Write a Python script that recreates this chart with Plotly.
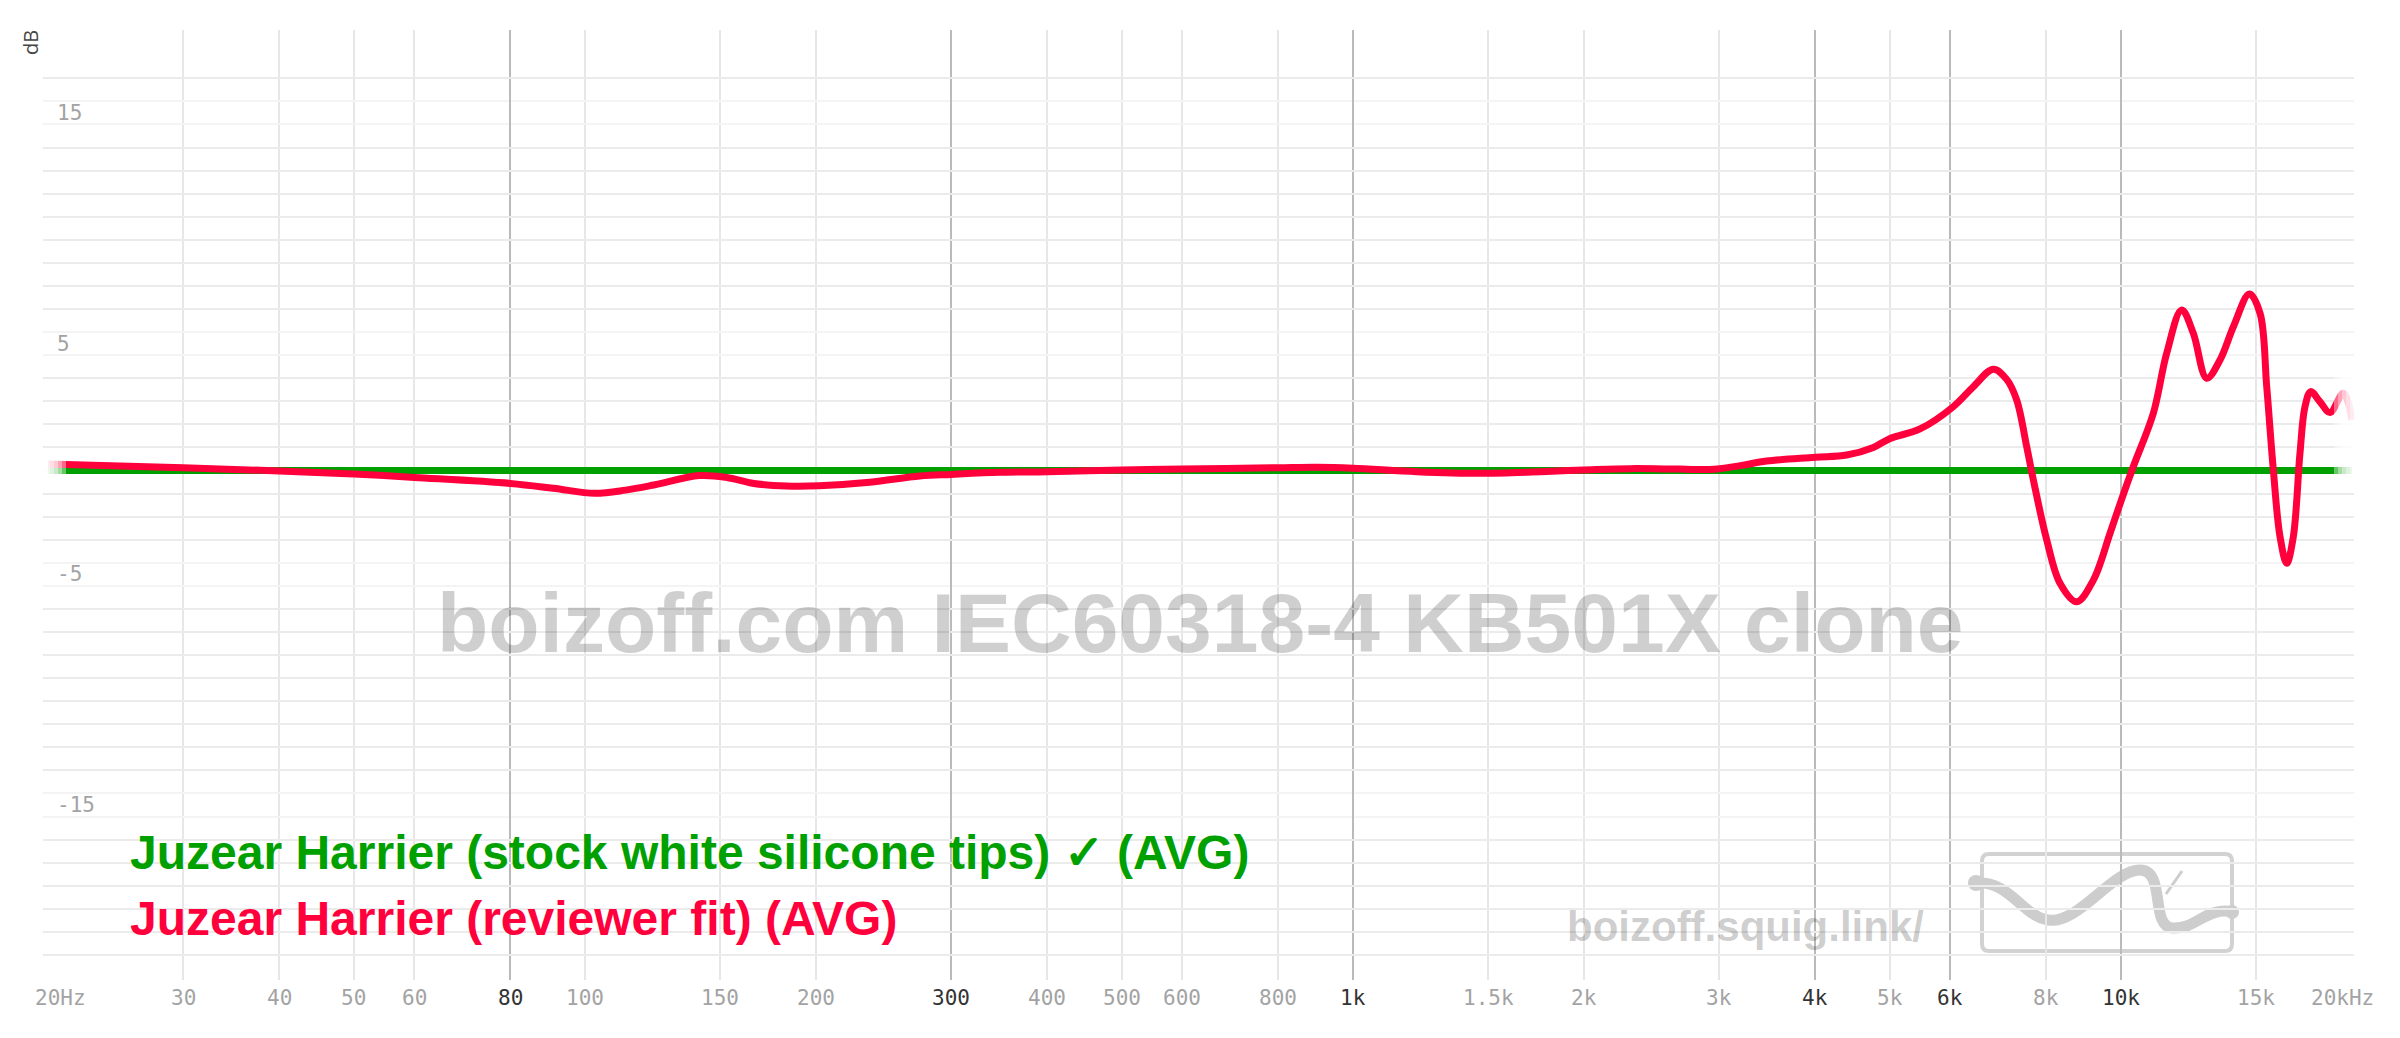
import math
import plotly.graph_objects as go

# ---------------- data ----------------
FREQ_HZ = [20, 30, 40, 50, 60, 80, 91, 103, 113, 123, 141, 153, 166, 183, 202,
           235, 273, 300, 347, 400, 500, 600, 800, 897, 1000, 1211, 1464, 1788,
           2000, 2296, 2668, 2947, 3194, 3458, 4000, 4396, 4762, 5000, 5477,
           6053, 6427, 6824, 7102, 7318, 7542, 7694, 8008, 8334, 8760, 9210,
           9683, 10000, 10380, 11024, 11474, 12002, 12428, 12938, 13464, 14014,
           14704, 15182, 15488, 15798, 16118, 16444, 16774, 17112, 17372, 17670,
           18170, 18726, 19486, 20000]
REVIEWER_DB = [0.28, 0.12, -0.02, -0.15, -0.30, -0.56, -0.77, -0.99, -0.85, -0.63,
               -0.22, -0.30, -0.56, -0.67, -0.66, -0.51, -0.24, -0.17, -0.08, -0.05,
               0.02, 0.06, 0.12, 0.14, 0.10, -0.05, -0.12, -0.04, 0.02, 0.08,
               0.06, 0.05, 0.21, 0.41, 0.57, 0.67, 1.00, 1.38, 1.80,
               2.77, 3.63, 4.39, 3.95, 3.06, 1.03, -0.41, -3.01, -4.89, -5.69, -4.75,
               -2.72, -1.35, 0.16, 2.48, 5.08, 6.96, 5.95, 4.00, 4.79, 6.23,
               7.65, 6.81, 3.63, 0.02, -2.87, -4.02, -2.87, 0.75, 2.77, 3.42,
               2.98, 2.51, 3.35, 2.20]
STOCK_FREQ_HZ = [20, 20000]
STOCK_DB = [0.0, 0.0]

XTICK_HZ = [20, 30, 40, 50, 60, 80, 100, 150, 200, 300, 400, 500, 600, 800,
            1000, 1500, 2000, 3000, 4000, 5000, 6000, 8000, 10000, 15000, 20000]
XTICK_TEXT = ["20Hz", "30", "40", "50", "60", "80", "100", "150", "200", "300",
              "400", "500", "600", "800", "1k", "1.5k", "2k", "3k", "4k", "5k",
              "6k", "8k", "10k", "15k", "20kHz"]
XTICK_MAJOR_HZ = [80, 300, 1000, 4000, 6000, 10000]
YGRID_DB = list(range(-21, 18))
YLABEL_DB = [15, 5, -5, -15]

TRACE_NAMES = ["Juzear Harrier (stock white silicone tips) \u2713 (AVG)",
               "Juzear Harrier (reviewer fit) (AVG)"]
TRACE_COLORS = ["#00a000", "#ff003c"]
WATERMARK = "boizoff.com IEC60318-4 KB501X clone"
SITE = "boizoff.squig.link/"
Y_UNIT = "dB"

# ---------------- geometry ----------------
W, H = 2400, 1038
PAGE_OFF = 8                      # html body margin
SL, ST, SR, SB = 43, 30, 2354, 980  # plot area on screen
PW, PH = SR - SL, SB - ST
L, T = SL - PAGE_OFF, ST - PAGE_OFF
R, B = W - L - PW, H - T - PH
PX_PER_DEC = 768.0
X0 = math.log10(20) - (48 - SL) / PX_PER_DEC
X1 = X0 + PW / PX_PER_DEC
PX_PER_DB = 23.07
Y_TOP = (470.5 - ST) / PX_PER_DB
Y_BOT = Y_TOP - PH / PX_PER_DB


def px(xp):
    return (xp - SL) / PW


def py(yp):
    return (SB - yp) / PH


MONO = "DejaVu Sans Mono"
SANS = "Liberation Sans, Arial, sans-serif"

fig = go.Figure()
fig.add_trace(go.Scatter(x=STOCK_FREQ_HZ, y=STOCK_DB, mode="lines",
                         line=dict(color=TRACE_COLORS[0], width=7),
                         hoverinfo="skip", showlegend=False))
fig.add_trace(go.Scatter(x=FREQ_HZ, y=REVIEWER_DB, mode="lines",
                         line=dict(color=TRACE_COLORS[1], width=7, shape="spline", smoothing=1.0),
                         hoverinfo="skip", showlegend=False))

minor_x = [f for f in XTICK_HZ if f not in XTICK_MAJOR_HZ and f not in (20, 20000)]
light_y = set()
for v in YLABEL_DB:
    light_y.add(v)
    light_y.add(v + 1)
major_y = [v for v in YGRID_DB if v not in light_y]

annotations = []
# x tick labels
for f, t in zip(XTICK_HZ, XTICK_TEXT):
    dark = f in XTICK_MAJOR_HZ
    shift = 12 if f == 20 else (-10 if f == 20000 else 0)
    annotations.append(dict(x=math.log10(f), xref="x", y=py(998), yref="paper",
                            text=t, showarrow=False, xanchor="center", yanchor="middle",
                            xshift=shift,
                            font=dict(family=MONO, size=21,
                                      color="#333333" if dark else "#a3a3a3")))
# y tick labels
for v in YLABEL_DB:
    annotations.append(dict(x=px(55), xref="paper", y=v, yref="y", yshift=11.5,
                            text=str(v), showarrow=False, xanchor="left", yanchor="middle",
                            font=dict(family=MONO, size=21, color="#a3a3a3")))
# unit label
annotations.append(dict(x=px(31), xref="paper", y=py(43), yref="paper", text=Y_UNIT,
                        textangle=-90, showarrow=False, xanchor="center", yanchor="middle",
                        font=dict(family="Open Sans", size=20, color="#444444")))
# watermark
annotations.append(dict(x=px(1200), xref="paper", y=py(623), yref="paper", text=WATERMARK,
                        showarrow=False, xanchor="center", yanchor="middle",
                        font=dict(family=SANS, size=84, weight="bold", color="rgba(0,0,0,0.19)")))
annotations.append(dict(x=px(1565), xref="paper", y=py(926), yref="paper", text=SITE,
                        showarrow=False, xanchor="left", yanchor="middle",
                        font=dict(family=SANS, size=42, weight="bold", color="rgba(0,0,0,0.2)")))
# legend labels
for name, col, yc in zip(TRACE_NAMES, TRACE_COLORS, [852.5, 918]):
    annotations.append(dict(x=px(128), xref="paper", y=py(yc), yref="paper", text=name,
                            showarrow=False, xanchor="left", yanchor="middle",
                            font=dict(family=SANS, size=48, weight="bold", color=col)))

shapes = []
# logo box (rounded rectangle)
bx0, by0, bx1, by1, rr = 1982, 854, 2232, 951, 7
pts = (f"M {px(bx0+rr)} {py(by0)} L {px(bx1-rr)} {py(by0)} Q {px(bx1)} {py(by0)} {px(bx1)} {py(by0+rr)} "
       f"L {px(bx1)} {py(by1-rr)} Q {px(bx1)} {py(by1)} {px(bx1-rr)} {py(by1)} "
       f"L {px(bx0+rr)} {py(by1)} Q {px(bx0)} {py(by1)} {px(bx0)} {py(by1-rr)} "
       f"L {px(bx0)} {py(by0+rr)} Q {px(bx0)} {py(by0)} {px(bx0+rr)} {py(by0)} Z")
shapes.append(dict(type="path", path=pts, xref="paper", yref="paper", layer="below",
                   line=dict(color="#d2d2d2", width=4)))
squig = [(1975, 883), (2010, 880), (2022, 916), (2048, 920), (2078, 925), (2112, 870),
         (2140, 870), (2166, 870), (2150, 926), (2172, 928), (2196, 930), (2206, 906), (2234, 912)]
d = f"M {px(squig[0][0])} {py(squig[0][1])}"
for i in range(1, len(squig), 3):
    a, b_, c = squig[i], squig[i + 1], squig[i + 2]
    d += f" C {px(a[0])} {py(a[1])} {px(b_[0])} {py(b_[1])} {px(c[0])} {py(c[1])}"
shapes.append(dict(type="path", path=d, xref="paper", yref="paper", layer="below",
                   line=dict(color="#cdcdcd", width=11)))
shapes.append(dict(type="path", path=f"M {px(2166)} {py(894)} L {px(2182)} {py(871)}",
                   xref="paper", yref="paper", layer="below", line=dict(color="#cdcdcd", width=3)))
for cx, cy, rad in [(1976, 883, 8), (2232, 912, 7)]:
    shapes.append(dict(type="circle", xref="paper", yref="paper", layer="below",
                       x0=px(cx - rad), x1=px(cx + rad), y0=py(cy + rad), y1=py(cy - rad),
                       fillcolor="#cdcdcd", line=dict(width=0)))
# end fades of the curves
for xi in [66, 62, 58, 54, 50]:
    shapes.append(dict(type="rect", xref="paper", yref="y", layer="above",
                       x0=px(40), x1=px(xi), y0=-0.85, y1=0.85,
                       fillcolor="white", opacity=0.4, line=dict(width=0)))
for xi in [2334, 2338, 2342, 2346, 2350]:
    shapes.append(dict(type="rect", xref="paper", yref="y", layer="above",
                       x0=px(xi), x1=px(2360), y0=-0.85, y1=4.6,
                       fillcolor="white", opacity=0.4, line=dict(width=0)))

fig.update_layout(
    width=W, height=H,
    margin=dict(l=L, r=R, t=T, b=B, autoexpand=False),
    paper_bgcolor="white", plot_bgcolor="white",
    showlegend=False,
    xaxis=dict(type="log", range=[X0, X1], tickmode="array", tickvals=XTICK_MAJOR_HZ,
               showticklabels=False, ticks="", showgrid=True, gridcolor="#bababa", gridwidth=2,
               zeroline=False, showline=False, fixedrange=True,
               minor=dict(tickmode="array", tickvals=minor_x, showgrid=True,
                          gridcolor="#e7e7e7", gridwidth=2, ticks="")),
    yaxis=dict(range=[Y_BOT, Y_TOP], tickmode="array", tickvals=major_y,
               showticklabels=False, ticks="", showgrid=True, gridcolor="#ebebeb", gridwidth=2,
               zeroline=False, showline=False, fixedrange=True,
               minor=dict(tickmode="array", tickvals=sorted(light_y), showgrid=True,
                          gridcolor="#f4f4f4", gridwidth=2, ticks="")),
    annotations=annotations,
    shapes=shapes,
)

fig.write_html("out.html")
